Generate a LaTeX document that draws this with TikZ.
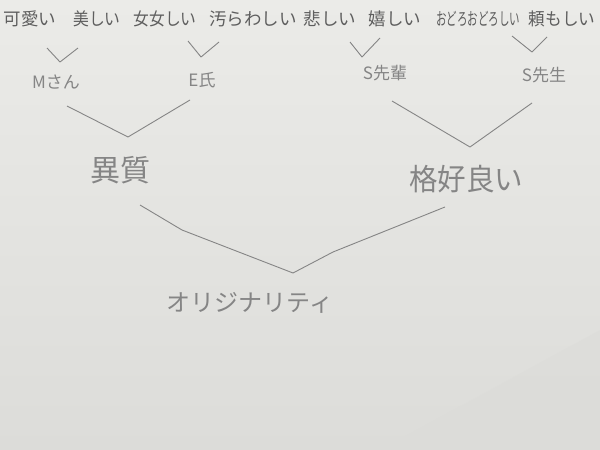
\documentclass[tikz,border=0pt]{standalone}
\usepackage{fontspec}
\usepackage{graphicx}
\newfontfamily\jp{Noto Sans CJK JP}
\definecolor{paper}{HTML}{EBEBE8}
\definecolor{paperdark}{HTML}{DCDCD9}
\definecolor{pencil}{HTML}{5E5E5E}
\definecolor{pencillight}{HTML}{858585}
\tikzset{
  word/.style={inner sep=0pt, text=pencil, font=\jp\fontsize{17.5}{17.5}\selectfont},
  person/.style={inner sep=0pt, text=pencillight, font=\jp\fontsize{17}{17}\selectfont},
  big/.style={inner sep=0pt, text=pencillight, font=\jp\fontsize{30}{30}\selectfont},
  tick/.style={draw=pencillight, line width=0.9pt, line join=round},
  branch/.style={draw=pencillight, line width=0.9pt, line join=round}
}
\begin{document}
\begin{tikzpicture}[x=1pt,y=-1pt]
\useasboundingbox (0,0) rectangle (600,450);
\shade[top color=paper, bottom color=paperdark] (0,0) rectangle (600,450);
\fill[paperdark, opacity=0.6] (600,330) -- (600,450) -- (380,450) -- cycle;

% top row
\node[word] (w1) at (30,19) {可愛い};
\node[word] (w2) at (97,19) {\scalebox{0.9}[1]{美しい}};
\node[word] (w3) at (165,19) {\scalebox{0.9}[1]{女女しい}};
\node[word] (w4) at (253,19) {汚らわしい};
\node[word] (w5) at (330,19) {悲しい};
\node[word] (w6) at (395,19) {嬉しい};
\node[word] (w7) at (478,19) {\scalebox{0.6}[1]{おどろおどろしい}};
\node[word] (w8) at (562,19) {\scalebox{0.95}[1]{頼もしい}};

% ticks
\coordinate (t1a) at (47,48); \coordinate (t1b) at (60,62); \coordinate (t1c) at (78,48);
\coordinate (t2a) at (188,41); \coordinate (t2b) at (201,57); \coordinate (t2c) at (219,42);
\coordinate (t3a) at (350,42); \coordinate (t3b) at (362,57); \coordinate (t3c) at (380,38);
\coordinate (t4a) at (512,36); \coordinate (t4b) at (532,52); \coordinate (t4c) at (547,37);
\draw[tick] (t1a) -- (t1b) -- (t1c);
\draw[tick] (t2a) -- (t2b) -- (t2c);
\draw[tick] (t3a) -- (t3b) -- (t3c);
\draw[tick] (t4a) -- (t4b) -- (t4c);

% persons
\node[person] (p1) at (56,82) {Mさん};
\node[person] (p2) at (202,80) {E氏};
\node[person] (p3) at (385,73) {S先輩};
\node[person] (p4) at (544,75) {S先生};

% middle branches
\coordinate (m1a) at (67,106); \coordinate (m1b) at (128,137); \coordinate (m1c) at (190,100);
\coordinate (m2a) at (392,101); \coordinate (m2b) at (470,147); \coordinate (m2c) at (532,103);
\draw[branch] (m1a) -- (m1b) -- (m1c);
\draw[branch] (m2a) -- (m2b) -- (m2c);

\node[big] (g1) at (120,170) {異質};
\node[big] (g2) at (466,179) {\scalebox{0.95}[1]{格好良い}};

% bottom branch
\coordinate (b1) at (140,205); \coordinate (b2) at (182,230);
\coordinate (b3) at (293,273); \coordinate (b4) at (333,252); \coordinate (b5) at (445,207);
\draw[branch] (b1) -- (b2) -- (b3) -- (b4) -- (b5);

\node[big, font=\jp\fontsize{24}{24}\selectfont] (o) at (250,303) {オリジナリティ};
\end{tikzpicture}
\end{document}
